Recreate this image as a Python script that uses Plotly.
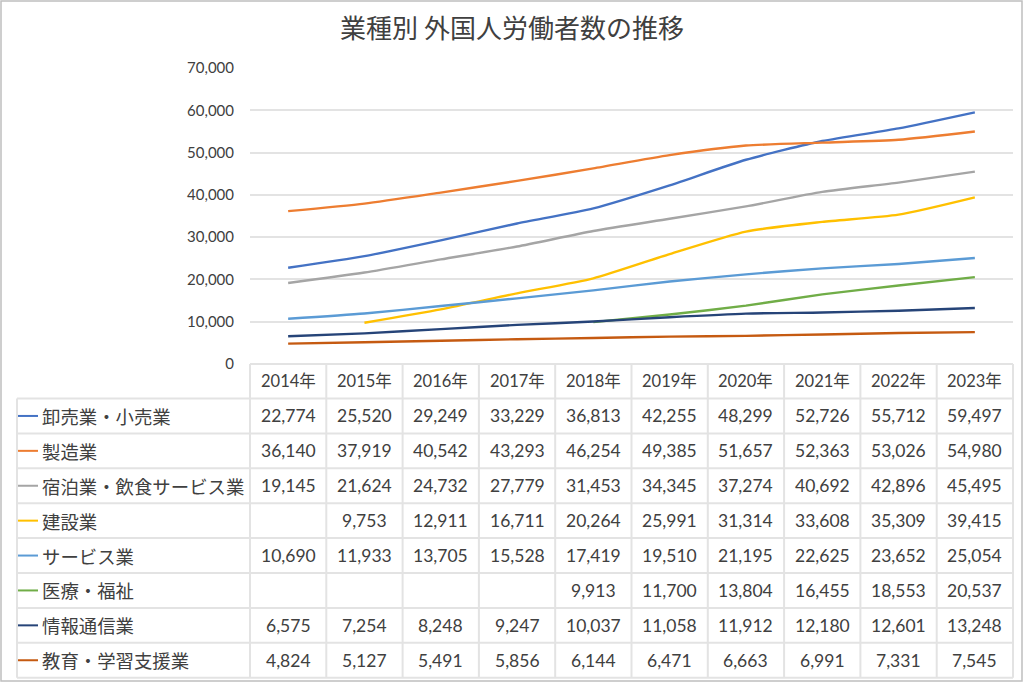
import plotly.graph_objects as go

years = ["2014年", "2015年", "2016年", "2017年", "2018年", "2019年", "2020年", "2021年", "2022年", "2023年"]

names = ["卸売業・小売業", "製造業", "宿泊業・飲食サービス業", "建設業", "サービス業", "医療・福祉", "情報通信業", "教育・学習支援業"]

wholesale_retail = [22774, 25520, 29249, 33229, 36813, 42255, 48299, 52726, 55712, 59497]
manufacturing = [36140, 37919, 40542, 43293, 46254, 49385, 51657, 52363, 53026, 54980]
hospitality_food = [19145, 21624, 24732, 27779, 31453, 34345, 37274, 40692, 42896, 45495]
construction = [None, 9753, 12911, 16711, 20264, 25991, 31314, 33608, 35309, 39415]
services = [10690, 11933, 13705, 15528, 17419, 19510, 21195, 22625, 23652, 25054]
medical_welfare = [None, None, None, None, 9913, 11700, 13804, 16455, 18553, 20537]
info_comm = [6575, 7254, 8248, 9247, 10037, 11058, 11912, 12180, 12601, 13248]
education = [4824, 5127, 5491, 5856, 6144, 6471, 6663, 6991, 7331, 7545]

series = [wholesale_retail, manufacturing, hospitality_food, construction,
          services, medical_welfare, info_comm, education]
colors = ["#4472C4", "#ED7D31", "#A5A5A5", "#FFC000", "#5B9BD5", "#70AD47", "#264478", "#C55A11"]

y_ticks = [0, 10000, 20000, 30000, 40000, 50000, 60000, 70000]

W, H = 1024, 684
L, R = 250, 1013       # plot area left/right pixels
TOP, BOT = 68, 364     # plot area top/bottom pixels
PW, PH = R - L, BOT - TOP

def px(p):
    return (p - L) / PW

def py(p):
    return (BOT - p) / PH

NUM_FONT = "Lato, 'Noto Sans CJK JP', sans-serif"
JP_FONT = "'Noto Sans CJK JP', sans-serif"
TXT = "#404040"
GRID = "#e3e3e3"

fig = go.Figure()
for name, vals, c in zip(names, series, colors):
    fig.add_trace(go.Scatter(
        x=years, y=vals, name=name, mode="lines",
        line=dict(color=c, width=2.4, shape="spline", smoothing=0.6),
        connectgaps=False, showlegend=False,
    ))

shapes = []
annotations = []

# table geometry
header_top = BOT
row_h = 34.9
header_bot = 398.5
label_left = 17
col_w = PW / len(years)

# horizontal lines
shapes.append(dict(type="line", xref="paper", yref="paper", x0=px(L), x1=px(R),
                   y0=py(header_top), y1=py(header_top), line=dict(color=GRID, width=2)))
for i in range(len(names) + 1):
    yy = header_bot + i * row_h
    shapes.append(dict(type="line", xref="paper", yref="paper", x0=px(label_left), x1=px(R),
                       y0=py(yy), y1=py(yy), line=dict(color=GRID, width=2)))
# vertical lines
for k in range(len(years) + 1):
    xx = L + k * col_w
    shapes.append(dict(type="line", xref="paper", yref="paper", x0=px(xx), x1=px(xx),
                       y0=py(header_top), y1=py(header_bot + len(names) * row_h),
                       line=dict(color=GRID, width=2)))
shapes.append(dict(type="line", xref="paper", yref="paper", x0=px(label_left), x1=px(label_left),
                   y0=py(header_bot), y1=py(header_bot + len(names) * row_h),
                   line=dict(color=GRID, width=2)))

# header years
for yr in years:
    annotations.append(dict(x=yr, xref="x", y=py((header_top + header_bot) / 2), yref="paper",
                            text=yr, showarrow=False, xanchor="center", yanchor="middle",
                            font=dict(family=NUM_FONT, size=16.5, color=TXT)))

# rows
for r, (name, vals, c) in enumerate(zip(names, series, colors)):
    cy = header_bot + r * row_h + row_h / 2
    shapes.append(dict(type="line", xref="paper", yref="paper", x0=px(18), x1=px(38),
                       y0=py(cy), y1=py(cy), line=dict(color=c, width=2)))
    annotations.append(dict(x=px(40), xref="paper", y=py(cy), yref="paper", text=name,
                            showarrow=False, xanchor="left", yanchor="middle",
                            font=dict(family=JP_FONT, size=18.4, color=TXT)))
    for yr, v in zip(years, vals):
        if v is None:
            continue
        annotations.append(dict(x=yr, xref="x", y=py(cy), yref="paper", text=f"{v:,}",
                                showarrow=False, xanchor="center", yanchor="middle",
                                font=dict(family=NUM_FONT, size=17.5, color=TXT)))

# outer border
shapes.append(dict(type="rect", xref="paper", yref="paper", x0=px(1), x1=px(1022),
                   y0=py(1), y1=py(681), line=dict(color="#bfbfbf", width=1.5)))

fig.update_layout(
    width=W, height=H,
    margin=dict(l=L, r=W - R, t=TOP, b=H - BOT, pad=0),
    paper_bgcolor="white", plot_bgcolor="white",
    title=dict(text="業種別 外国人労働者数の推移", x=0.5, xref="container", xanchor="center",
               y=1 - 29 / H, yanchor="middle", yref="container",
               font=dict(family=JP_FONT, size=26, color="#404040")),
    xaxis=dict(type="category", range=[-0.5, 9.5], showticklabels=False, showgrid=False,
               zeroline=False, showline=False, ticks=""),
    yaxis=dict(range=[0, 70000], tickvals=y_ticks, tickformat=",", showgrid=True,
               gridcolor=GRID, gridwidth=1.5, zeroline=False, showline=False, ticks="",
               ticklabelstandoff=15,
               tickfont=dict(family=NUM_FONT, size=15, color=TXT)),
    shapes=shapes, annotations=annotations,
)

fig.write_html("out.html", config={"displayModeBar": False},
               post_script="document.body.style.margin='0';document.body.style.overflow='hidden';")
